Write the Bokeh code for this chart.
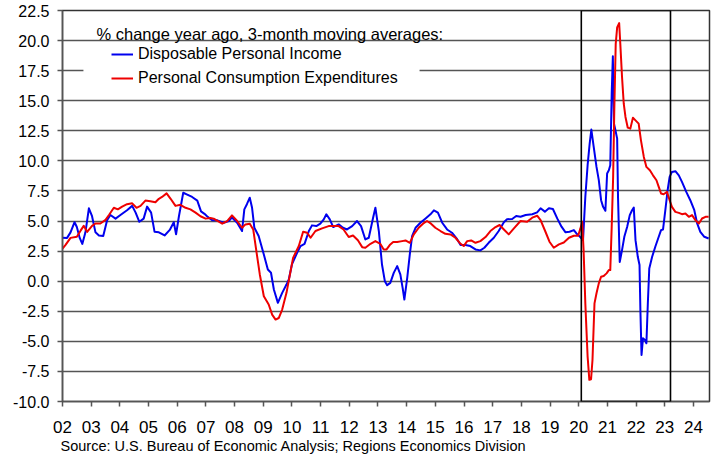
from bokeh.plotting import figure
from bokeh.models import (FixedTicker, NumeralTickFormatter, Range1d, BoxAnnotation,
                          Legend, LegendItem, Label, Title)
from bokeh.embed import file_html
from bokeh.resources import INLINE

FONT = "Liberation Sans"

# ---------------- data ----------------
years = list(range(2002, 2025))
year_labels = [f"{y % 100:02d}" for y in years]
y_ticks = [-10.0, -7.5, -5.0, -2.5, 0.0, 2.5, 5.0, 7.5, 10.0, 12.5, 15.0, 17.5, 20.0, 22.5]

dpi_t = [2002.00, 2002.16, 2002.28, 2002.42, 2002.50, 2002.60, 2002.69, 2002.80, 2002.92, 2003.03,
         2003.15, 2003.27, 2003.42, 2003.56, 2003.67, 2003.85, 2004.02, 2004.25, 2004.43, 2004.55,
         2004.68, 2004.83, 2004.95, 2005.09, 2005.21, 2005.36, 2005.56, 2005.74, 2005.88, 2005.96,
         2006.06, 2006.21, 2006.35, 2006.52, 2006.70, 2006.83, 2006.95, 2007.04, 2007.22, 2007.40,
         2007.62, 2007.80, 2007.91, 2008.09, 2008.26, 2008.34, 2008.43, 2008.53, 2008.61, 2008.69,
         2008.84, 2009.02, 2009.16, 2009.27, 2009.37, 2009.51, 2009.66, 2009.81, 2009.89, 2010.00,
         2010.18, 2010.30, 2010.44, 2010.59, 2010.70, 2010.85, 2010.99, 2011.11, 2011.20, 2011.32,
         2011.44, 2011.63, 2011.78, 2011.92, 2012.10, 2012.27, 2012.41, 2012.56, 2012.68, 2012.83,
         2012.91, 2013.03, 2013.14, 2013.24, 2013.32, 2013.43, 2013.55, 2013.67, 2013.78, 2013.86,
         2013.92, 2014.02, 2014.11, 2014.19, 2014.31, 2014.48, 2014.66, 2014.83, 2014.95, 2015.09,
         2015.24, 2015.41, 2015.58, 2015.74, 2015.88, 2016.05, 2016.22, 2016.40, 2016.57, 2016.71,
         2016.86, 2017.04, 2017.21, 2017.39, 2017.50, 2017.68, 2017.82, 2017.97, 2018.15, 2018.38,
         2018.55, 2018.67, 2018.82, 2018.96, 2019.10, 2019.25, 2019.40, 2019.54, 2019.68, 2019.83,
         2019.92, 2020.02, 2020.15, 2020.23, 2020.31, 2020.38, 2020.44, 2020.52, 2020.62, 2020.70,
         2020.78, 2020.85, 2020.93, 2020.99, 2021.05, 2021.10, 2021.15, 2021.19, 2021.23, 2021.28,
         2021.34, 2021.37, 2021.43, 2021.51, 2021.59, 2021.69, 2021.78, 2021.86, 2021.92, 2021.98,
         2022.06, 2022.12, 2022.15, 2022.19, 2022.24, 2022.31, 2022.36, 2022.41, 2022.46, 2022.56,
         2022.67, 2022.79, 2022.87, 2022.94, 2023.02, 2023.10, 2023.17, 2023.25, 2023.37, 2023.49,
         2023.60, 2023.75, 2023.89, 2024.03, 2024.13, 2024.24, 2024.38, 2024.53]
dpi = [3.62, 3.6, 4.06, 4.9, 4.5, 3.6, 3.1, 4.06, 6.06, 5.4,
       4.06, 3.8, 3.76, 5.1, 5.5, 5.2, 5.5, 5.9, 6.26, 5.7,
       4.94, 5.2, 6.2, 5.7, 4.1, 4.06, 3.8, 4.26, 4.9, 3.9,
       5.4, 7.35, 7.2, 7.0, 6.7, 5.8, 5.6, 5.4, 5.06, 5.06,
       4.86, 5.0, 5.3, 4.86, 4.17, 5.97, 6.4, 6.94, 6.1, 4.44,
       3.75, 2.22, 0.97, 0.7, -0.69, -1.8, -0.97, -0.28, 0.14, 1.39,
       2.36, 2.92, 3.1, 4.17, 4.64, 4.58, 4.78, 5.14, 5.56, 5.14,
       4.5, 4.72, 4.44, 4.3, 4.58, 5.0, 4.58, 3.47, 3.61, 5.28,
       6.11, 4.17, 1.39, 0.0, -0.33, -0.14, 0.69, 1.25, 0.56, -0.56,
       -1.53, 0.28, 2.22, 3.75, 4.44, 4.86, 5.22, 5.56, 5.89, 5.7,
       4.86, 4.3, 4.03, 3.56, 3.0, 3.0, 2.92, 2.64, 2.56, 2.78,
       3.19, 3.61, 4.17, 4.9, 5.15, 5.17, 5.42, 5.36, 5.5, 5.56,
       5.72, 6.06, 5.78, 6.06, 6.0, 5.22, 4.53, 4.06, 4.11, 4.25,
       3.97, 3.75, 3.41, 7.0, 9.64, 11.4, 12.6, 11.2, 9.5, 8.4,
       6.73, 6.18, 5.85, 8.95, 9.22, 9.64, 15.6, 18.7, 13.1, 12.54,
       11.85, 7.0, 1.6, 2.58, 3.69, 4.52, 5.49, 5.9, 6.12, 3.41,
       2.03, 1.34, -2.4, -6.13, -4.75, -4.89, -5.16, -1.84, 1.06, 2.03,
       2.86, 3.69, 4.24, 4.3, 5.9, 7.56, 8.67, 9.08, 9.14, 8.8,
       8.25, 7.42, 6.73, 5.9, 4.8, 4.1, 3.69, 3.55]

pce_t = [2002.00, 2002.10, 2002.28, 2002.50, 2002.63, 2002.74, 2002.86, 2003.03, 2003.15, 2003.32,
         2003.50, 2003.62, 2003.79, 2003.93, 2004.08, 2004.25, 2004.43, 2004.58, 2004.72, 2004.89,
         2005.06, 2005.24, 2005.36, 2005.47, 2005.63, 2005.77, 2005.94, 2006.11, 2006.29, 2006.46,
         2006.64, 2006.81, 2006.99, 2007.16, 2007.27, 2007.57, 2007.74, 2007.91, 2008.09, 2008.26,
         2008.38, 2008.53, 2008.65, 2008.76, 2008.88, 2009.02, 2009.19, 2009.31, 2009.43, 2009.54,
         2009.66, 2009.81, 2009.92, 2010.04, 2010.24, 2010.39, 2010.53, 2010.65, 2010.82, 2011.05,
         2011.28, 2011.45, 2011.63, 2011.80, 2011.98, 2012.13, 2012.30, 2012.45, 2012.56, 2012.74,
         2012.91, 2013.08, 2013.20, 2013.30, 2013.41, 2013.53, 2013.67, 2013.84, 2013.96, 2014.11,
         2014.25, 2014.42, 2014.57, 2014.71, 2014.85, 2015.00, 2015.18, 2015.35, 2015.53, 2015.70,
         2015.88, 2015.99, 2016.11, 2016.25, 2016.40, 2016.57, 2016.75, 2016.92, 2017.10, 2017.24,
         2017.39, 2017.56, 2017.74, 2017.97, 2018.20, 2018.38, 2018.55, 2018.67, 2018.84, 2018.98,
         2019.13, 2019.31, 2019.48, 2019.66, 2019.83, 2019.98, 2020.06, 2020.12, 2020.17, 2020.23,
         2020.31, 2020.37, 2020.43, 2020.48, 2020.55, 2020.62, 2020.70, 2020.78, 2020.87, 2020.97,
         2021.05, 2021.10, 2021.15, 2021.20, 2021.24, 2021.29, 2021.34, 2021.41, 2021.45, 2021.51,
         2021.57, 2021.63, 2021.71, 2021.80, 2021.89, 2021.98, 2022.09, 2022.17, 2022.27, 2022.36,
         2022.48, 2022.59, 2022.71, 2022.79, 2022.87, 2022.96, 2023.08, 2023.17, 2023.25, 2023.37,
         2023.49, 2023.60, 2023.72, 2023.84, 2023.95, 2024.07, 2024.19, 2024.30, 2024.42, 2024.53]
pce = [2.7, 3.0, 3.6, 3.7, 4.2, 4.6, 4.1, 4.6, 4.8, 4.8,
       5.1, 5.5, 6.1, 5.97, 6.2, 6.4, 6.47, 6.1, 6.26, 6.7,
       6.65, 6.56, 6.85, 7.0, 7.3, 6.85, 6.26, 6.35, 6.1, 5.97,
       5.7, 5.4, 5.2, 5.25, 5.2, 4.78, 5.0, 5.47, 5.0, 4.44,
       4.72, 4.78, 4.3, 2.5, 0.56, -1.25, -1.94, -2.78, -3.19, -3.06,
       -2.36, -0.97, 0.42, 1.94, 2.92, 4.11, 4.03, 3.61, 4.17, 4.39,
       4.58, 4.58, 4.58, 4.3, 3.67, 3.8, 3.4, 2.83, 2.78, 3.11,
       3.33, 3.11, 2.64, 2.64, 3.0, 3.25, 3.25, 3.33, 3.39, 3.19,
       3.89, 4.44, 4.78, 5.0, 4.78, 4.44, 4.17, 3.94, 3.89, 3.61,
       3.11, 2.92, 3.33, 3.39, 3.19, 3.33, 3.67, 4.17, 4.5, 4.67,
       4.3, 3.89, 4.39, 5.0, 4.94, 5.28, 5.44, 5.08, 4.11, 3.28,
       2.78, 3.06, 3.22, 3.61, 3.78, 3.78, 4.39, 4.94, 2.58, -1.84,
       -6.27, -8.2, -8.15, -6.55, -1.84, -1.0, -0.18, 0.37, 0.43, 0.65,
       0.92, 0.92, 4.52, 8.67, 14.2, 19.73, 21.1, 21.45, 19.73, 16.97,
       14.75, 13.65, 12.76, 12.68, 13.59, 13.37, 13.1, 11.71, 10.33, 9.5,
       9.22, 8.8, 8.39, 7.84, 7.29, 7.23, 7.42, 6.73, 6.18, 5.76,
       5.68, 5.57, 5.63, 5.35, 5.49, 5.07, 4.8, 5.21, 5.35, 5.35]

series_names = ["Disposable Personal Income", "Personal Consumption Expenditures"]
header_text = "% change year ago, 3-month moving averages:"
source_text = "Source: U.S. Bureau of Economic Analysis; Regions Economics Division"
highlight_period = [2020.09, 2023.2]

# ---------------- figure ----------------
p = figure(width=716, height=461, output_backend="svg", toolbar_location=None,
           x_range=Range1d(2002.0, 2024.56), y_range=Range1d(-10.0, 22.5),
           min_border_left=62, min_border_right=7, min_border_top=10, min_border_bottom=60)
p.background_fill_color = "white"
p.border_fill_color = "white"
p.outline_line_color = "#333333"
p.outline_line_width = 1.5

GRID = "#555555"
p.xgrid.visible = False
p.ygrid.ticker = FixedTicker(ticks=y_ticks)
p.ygrid.grid_line_color = GRID
p.ygrid.grid_line_width = 1.3

p.yaxis.ticker = FixedTicker(ticks=y_ticks)
p.yaxis.formatter = NumeralTickFormatter(format="0.0")
p.xaxis.ticker = FixedTicker(ticks=years)
p.xaxis.major_label_overrides = {y: l for y, l in zip(years, year_labels)}
for ax in (p.xaxis[0], p.yaxis[0]):
    ax.major_label_text_font = FONT
    ax.major_label_text_color = "black"
    ax.major_tick_in = 0
    ax.major_tick_out = 5
    ax.minor_tick_line_color = None
    ax.major_tick_line_color = GRID
    ax.major_tick_line_width = 1.5
    ax.axis_line_color = GRID
    ax.axis_line_width = 1.5
p.yaxis.major_label_text_font_size = "16px"
p.yaxis.major_label_standoff = 8
p.xaxis.major_label_text_font_size = "17px"
p.xaxis.major_label_standoff = 14

# white area behind the legend (hides gridline)
mask = BoxAnnotation(left=2002.73, right=2014.45, top=19.76, bottom=15.37,
                     fill_color="white", fill_alpha=1.0, line_alpha=0.0, level="underlay")
p.add_layout(mask)

r1 = p.line(dpi_t, dpi, line_color="#0000EE", line_width=2, line_join="round")
r2 = p.line(pce_t, pce, line_color="#EE0000", line_width=2, line_join="round")

box = BoxAnnotation(left=highlight_period[0], right=highlight_period[1],
                    fill_alpha=0.0, line_color="black", line_alpha=1.0, line_width=1.6)
p.add_layout(box)

legend = Legend(items=[LegendItem(label=series_names[0], renderers=[r1]),
                       LegendItem(label=series_names[1], renderers=[r2])],
                location=(49, 313), padding=0, margin=0, spacing=4,
                label_height=20, glyph_height=20, glyph_width=22, label_standoff=5,
                background_fill_alpha=0.0, border_line_alpha=0.0,
                label_text_font=FONT, label_text_font_size="16px", label_text_color="black")
p.add_layout(legend)

header = Label(x=34, y=367.5, x_units="screen", y_units="screen", text=header_text,
               text_font=FONT, text_font_size="16.5px", text_color="black",
               text_baseline="alphabetic")
p.add_layout(header)

source = Title(text=source_text, align="left", offset=-2, standoff=0,
               text_font=FONT, text_font_size="14.5px", text_font_style="normal",
               text_color="black")
p.add_layout(source, "below")

open("out.html", "w").write(file_html(p, INLINE))
